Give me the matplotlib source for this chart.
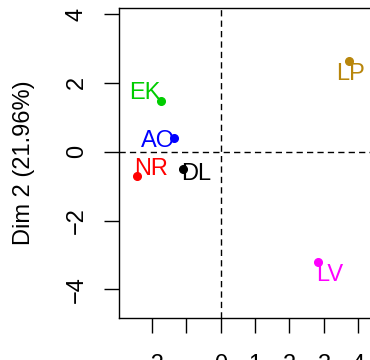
"""
PCA individuals map, first two dimensions (R base-graphics look)
"""
import matplotlib
matplotlib.use('Agg')
import matplotlib.pyplot as plt

plt.rcParams['font.family'] = ['Liberation Sans', 'DejaVu Sans']

# Individual coordinates on Dim 1 / Dim 2
names = ['EK', 'AO', 'NR', 'DL', 'LP', 'LV']
dim1 = [-1.74, -1.35, -2.44, -1.09, 3.74, 2.82]
dim2 = [1.48, 0.39, -0.72, -0.51, 2.64, -3.21]
colors = ['#00CD00', '#0000FF', '#FF0000', '#000000', '#B8860B', '#FF00FF']

# label offsets (pixels) so names do not sit on the points
label_offsets = {
    'EK': (-16, 10), 'AO': (-16, 0), 'NR': (15, 10),
    'DL': (13, -2), 'LP': (1, -11), 'LV': (12, -10),
}

x_ticks = [-2, -1, 0, 1, 2, 3, 4]
x_ticklabels = ['\u22122', '', '0', '1', '2', '3', '4']
y_ticks = [-4, -2, 0, 2, 4]
y_ticklabels = ['\u22124', '\u22122', '0', '2', '4']
y_title = 'Dim 2 (21.96%)'

FS = 17

fig = plt.figure(figsize=(3.7, 3.6), dpi=100)
# box runs past the right edge of the canvas
ax = fig.add_axes([119 / 370, 41.7 / 360, 271 / 370, 310.8 / 360])

ax.axvline(0, color='black', lw=1.0, ls=(0, (4.5, 3)), zorder=1)
ax.axhline(0, color='black', lw=1.0, ls=(0, (4.5, 3)), zorder=1)

for name, x, y, c in zip(names, dim1, dim2, colors):
    ax.plot(x, y, 'o', color=c, markersize=5.5, zorder=3)
    ax.annotate(name, (x, y), xytext=label_offsets[name], textcoords='offset pixels',
                ha='center', va='center_baseline', color=c, fontsize=FS, zorder=4)

ax.set_xlim(-2.95, 4.92)
ax.set_ylim(-4.84, 4.19)

ax.set_xticks(x_ticks)
ax.set_xticklabels(x_ticklabels)
ax.set_yticks(y_ticks)
ax.set_yticklabels(y_ticklabels, rotation=90, va='center')
ax.tick_params(axis='both', length=10.5, width=1.0, labelsize=FS)
ax.tick_params(axis='y', pad=12)
ax.tick_params(axis='x', pad=15.5)

ax.set_ylabel(y_title, fontsize=FS, labelpad=22)

for sp in ax.spines.values():
    sp.set_linewidth(1.0)

fig.savefig('out.png', dpi=100)
